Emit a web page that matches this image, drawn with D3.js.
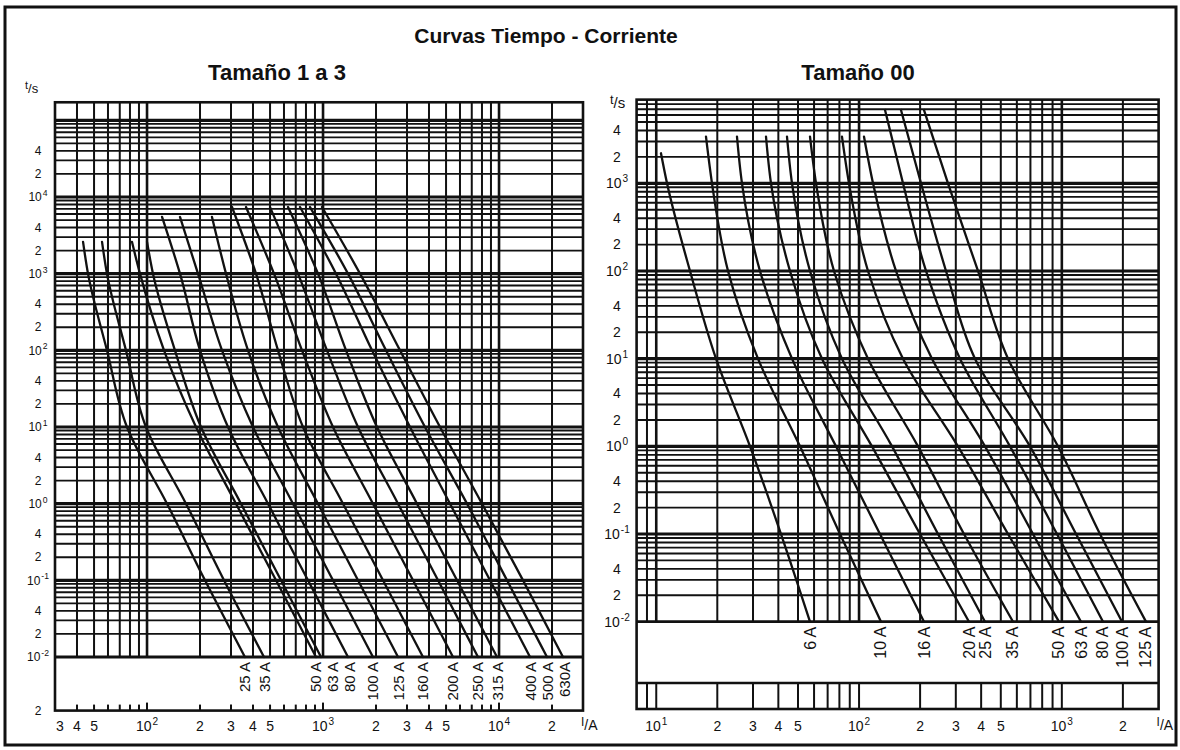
<!DOCTYPE html>
<html>
<head>
<meta charset="utf-8">
<script src="https://cdn.jsdelivr.net/npm/d3@7"></script>
<style>
  html, body { margin: 0; padding: 0; background: #fff; }
  svg { display: block; font-family: "Liberation Sans", Arial, sans-serif; }
</style>
</head>
<body>
<svg id="chart" width="1180" height="750"></svg>
<script>
// --- data: [current in A, time in s] ---
const leftRatings = ['25 A', '35 A', '50 A', '63 A', '80 A', '100 A', '125 A',
  '160 A', '200 A', '250 A', '315 A', '400 A', '500 A', '630A'];
const leftCurves = [
  [[43.3, 2600], [46.2, 1000], [59.2, 100], [76.9, 10], [129.9, 1], [213.5, 0.1], [360, 0.01]],
  [[55.5, 2600], [59.2, 1000], [75.9, 100], [98.6, 10], [166.5, 1], [273.7, 0.1], [462, 0.01]],
  [[82.1, 2600], [91.2, 1000], [124.9, 100], [189.8, 10], [320.3, 1], [540.5, 0.1], [912, 0.01]],
  [[100, 2600], [108.1, 1000], [144.1, 100], [202.6, 10], [341.9, 1], [577.1, 0.1], [974, 0.01]],
  [[121.7, 5500], [153.9, 1000], [200, 100], [288.4, 10], [486.8, 1], [821.4, 0.1], [1386, 0.01]],
  [[153.9, 5500], [194.8, 1000], [266.7, 100], [400, 10], [675.1, 1], [1139, 0.1], [1922, 0.01]],
  [[233.9, 5500], [281, 1000], [374.7, 100], [554.8, 10], [936.3, 1], [1580, 0.1], [2667, 0.01]],
  [[303.9, 7400], [416, 1000], [554.8, 100], [769.4, 10], [1299, 1], [2191, 0.1], [3698, 0.01]],
  [[365, 7400], [526.5, 1000], [759.4, 100], [1139, 10], [1922, 1], [3245, 0.1], [5476, 0.01]],
  [[499.7, 7400], [720.7, 1000], [1053, 100], [1580, 10], [2667, 1], [4501, 0.1], [7594, 0.01]],
  [[632.4, 7400], [936.3, 1000], [1351, 100], [2026, 10], [3419, 1], [5771, 0.1], [9739, 0.01]],
  [[739.8, 7400], [1185, 1000], [1898, 100], [3120, 10], [5265, 1], [8886, 0.1], [15000, 0.01]],
  [[843.3, 7400], [1386, 1000], [2279, 100], [3796, 10], [6577, 1], [11100, 0.1], [18730, 0.01]],
  [[986.5, 7400], [1622, 1000], [2737, 100], [4619, 10], [8003, 1], [13690, 0.1], [23090, 0.01]]
];

const rightRatings = ['6 A', '10 A', '16 A', '20 A', '25 A', '35 A', '50 A', '63 A', '80 A', '100 A', '125 A'];
const rightCurves = [
  [[10.55, 2200], [11.3, 1000], [14.67, 100], [19.71, 10], [29, 1], [41.22, 0.1], [57.3, 0.01]],
  [[17.59, 3400], [18.83, 1000], [22.59, 100], [31.74, 10], [51.14, 1], [80.55, 0.1], [128.3, 0.01]],
  [[25.01, 3400], [26.47, 1000], [32.47, 100], [46.71, 10], [76.96, 1], [126.8, 0.1], [209.1, 0.01]],
  [[34.77, 3400], [36.8, 1000], [45.65, 100], [65.67, 10], [115.8, 1], [199.8, 0.1], [348.5, 0.01]],
  [[44.13, 3400], [46.71, 1000], [57.3, 100], [82.38, 10], [145.4, 1], [245.1, 0.1], [417.8, 0.01]],
  [[57.3, 3400], [61.34, 1000], [75.24, 100], [110.7, 10], [195.3, 1], [329.2, 0.1], [574.3, 0.01]],
  [[82.38, 3400], [89.2, 1000], [110.7, 100], [164.7, 10], [307.5, 1], [542.7, 0.1], [968.1, 0.01]],
  [[105.8, 3400], [117.2, 1000], [152.1, 100], [228.9, 10], [417.8, 1], [720.6, 0.1], [1243, 0.01]],
  [[134.3, 6850], [164.7, 1000], [213.9, 100], [314.6, 10], [555.1, 1], [946.5, 0.1], [1595, 0.01]],
  [[161, 6850], [202.1, 1000], [268.4, 100], [373, 10], [696.5, 1], [1175, 0.1], [1980, 0.01]],
  [[209.1, 6850], [274.5, 1000], [385.9, 100], [542.7, 10], [957.2, 1], [1542, 0.1], [2600, 0.01]]
];

// tick labels: [value, text] ; "10^n" means power of ten
const leftXTicks = [[30, '3'], [40, '4'], [50, '5'], [100, '10^2'], [200, '2'], [300, '3'], [400, '4'],
  [500, '5'], [1000, '10^3'], [2000, '2'], [3000, '3'], [4000, '4'], [5000, '5'], [10000, '10^4'], [20000, '2']];
const leftYTicks = [[4e4, '4'], [2e4, '2'], [1e4, '10^4'], [4e3, '4'], [2e3, '2'], [1e3, '10^3'],
  [400, '4'], [200, '2'], [100, '10^2'], [40, '4'], [20, '2'], [10, '10^1'], [4, '4'], [2, '2'],
  [1, '10^0'], [0.4, '4'], [0.2, '2'], [0.1, '10^-1'], [0.04, '4'], [0.02, '2'], [0.01, '10^-2'], [0.002, '2']];
const rightXTicks = [[10, '10^1'], [20, '2'], [30, '3'], [40, '4'], [50, '5'], [100, '10^2'], [200, '2'],
  [300, '3'], [400, '4'], [500, '5'], [1000, '10^3'], [2000, '2']];
const rightYTicks = [[4e3, '4'], [2e3, '2'], [1e3, '10^3'], [400, '4'], [200, '2'], [100, '10^2'],
  [40, '4'], [20, '2'], [10, '10^1'], [4, '4'], [2, '2'], [1, '10^0'], [0.4, '4'], [0.2, '2'],
  [0.1, '10^-1'], [0.04, '4'], [0.02, '2'], [0.01, '10^-2']];

const INK = '#111';
const svg = d3.select('#chart');

// outer frame of the scan
svg.append('rect')
  .attr('x', 5).attr('y', 7).attr('width', 1171).attr('height', 738)
  .attr('fill', 'none').attr('stroke', INK).attr('stroke-width', 3);

svg.append('text')
  .attr('x', 546).attr('y', 43).attr('text-anchor', 'middle')
  .attr('font-size', 21).attr('font-weight', 'bold').attr('fill', INK)
  .text('Curvas Tiempo - Corriente');

function isDecade(v) {
  const l = Math.log10(v);
  return Math.abs(l - Math.round(l)) < 1e-6;
}

// writes "10^n" as 10 with a raised exponent
function tickText(sel, label, size) {
  const parts = label.split('^');
  sel.append('tspan').text(parts[0]);
  if (parts.length > 1) {
    sel.append('tspan')
      .attr('dy', -size * 0.42).attr('dx', 1)
      .attr('font-size', size * 0.72)
      .text(parts[1]);
  }
}

function unitLabel(g, xPos, yPos, a, b, size) {
  const t = g.append('text').attr('x', xPos).attr('y', yPos)
    .attr('font-size', size).attr('fill', INK);
  t.append('tspan').attr('dy', -4).attr('font-size', size * 0.85).text(a);
  t.append('tspan').attr('dy', 4).text('/' + b);
}

function drawPanel(p) {
  const x = d3.scaleLog().domain(p.xDomain).range(p.xRange);
  const y = d3.scaleLog().domain(p.yDomain).range(p.yRange);
  const g = svg.append('g');
  const [x0, x1] = p.xRange;
  const yTop = y(p.tTop);
  const yGrid = y(p.yDomain[0]);
  const yBox = y(p.tMin);
  const yEnd = p.stripBottom || yBox;

  // horizontal grid (1..9 x 10^n)
  const hVals = d3.scaleLog().domain([p.yDomain[0], p.tTop]).ticks()
    .filter(v => y(v) > yTop + 1 && y(v) < yGrid - 1);
  g.selectAll('line.h').data(hVals).join('line')
    .attr('x1', x0).attr('x2', x1)
    .attr('y1', d => y(d)).attr('y2', d => y(d))
    .attr('stroke', INK)
    .attr('stroke-width', d => isDecade(d) ? 3.2 : 1.9);

  // vertical grid
  const vVals = x.ticks().filter(v => x(v) > x0 + 1 && x(v) < x1 - 1);
  g.selectAll('line.v').data(vVals).join('line')
    .attr('x1', d => x(d)).attr('x2', d => x(d))
    .attr('y1', yTop).attr('y2', yGrid)
    .attr('stroke', INK)
    .attr('stroke-width', d => isDecade(d) ? 2.6 : 2);

  if (p.stripBottom) {
    // strip below the label box repeats the vertical grid
    g.selectAll('line.s').data(vVals).join('line')
      .attr('x1', d => x(d)).attr('x2', d => x(d))
      .attr('y1', yBox).attr('y2', p.stripBottom)
      .attr('stroke', INK).attr('stroke-width', 2);
    g.append('line').attr('x1', x0).attr('x2', x1).attr('y1', yBox).attr('y2', yBox)
      .attr('stroke', INK).attr('stroke-width', 2.4);
  } else {
    // short ticks on the bottom edge
    g.selectAll('line.t').data(vVals).join('line')
      .attr('x1', d => x(d)).attr('x2', d => x(d))
      .attr('y1', yBox).attr('y2', d => yBox - (isDecade(d) ? 8 : 6))
      .attr('stroke', INK).attr('stroke-width', 2);
  }

  // frame and the 10^-2 line
  g.append('rect').attr('x', x0).attr('y', yTop)
    .attr('width', x1 - x0).attr('height', yEnd - yTop)
    .attr('fill', 'none').attr('stroke', INK).attr('stroke-width', 2.6);
  g.append('line').attr('x1', x0).attr('x2', x1).attr('y1', yGrid).attr('y2', yGrid)
    .attr('stroke', INK).attr('stroke-width', 2.8);

  // time-current curves
  const line = d3.line()
    .x(d => x(d[0])).y(d => y(d[1]))
    .curve(d3.curveMonotoneY);
  g.selectAll('path.curve').data(p.curves).join('path')
    .attr('d', line)
    .attr('fill', 'none').attr('stroke', INK)
    .attr('stroke-width', 2.3).attr('stroke-linecap', 'round');

  // rating labels, rotated, under the curve ends
  let last = -Infinity;
  const lx = p.curves.map(c => {
    let v = x(c[c.length - 1][0]);
    if (v < last + p.labelGap) v = last + p.labelGap;
    last = v;
    return v;
  });
  g.selectAll('text.rating').data(p.ratings).join('text')
    .attr('transform', (d, i) => `translate(${lx[i]},${yGrid + 5}) rotate(-90)`)
    .attr('text-anchor', 'end').attr('dominant-baseline', 'central')
    .attr('font-size', p.ratingSize).attr('fill', INK)
    .text(d => d);

  // y tick labels
  g.selectAll('text.yt').data(p.yTicks).join('text')
    .attr('x', p.yLabelX).attr('y', d => y(d[0]) + p.yFont * 0.35)
    .attr('text-anchor', 'middle').attr('font-size', p.yFont).attr('fill', INK)
    .each(function (d) { tickText(d3.select(this), d[1], p.yFont); });

  // x tick labels
  g.selectAll('text.xt').data(p.xTicks).join('text')
    .attr('x', d => x(d[0]) + (x(d[0]) - x0 < 2 ? 5 : 0))
    .attr('y', 731)
    .attr('text-anchor', 'middle').attr('font-size', p.xFont).attr('fill', INK)
    .each(function (d) { tickText(d3.select(this), d[1], p.xFont); });

  // panel title and axis units
  g.append('text').attr('x', p.titleX).attr('y', 80)
    .attr('text-anchor', 'middle').attr('font-size', 22).attr('font-weight', 'bold')
    .attr('fill', INK).text(p.title);
  unitLabel(g, p.tUnit[0], p.tUnit[1], 't', 's', p.yFont + 1);
  unitLabel(g, x1 - 2, 730, 'I', 'A', p.xFont);
}

drawPanel({
  title: 'Tamaño 1 a 3', titleX: 277,
  xDomain: [30, 30000], xRange: [55, 583],
  yDomain: [1e-2, 1e4], yRange: [657, 197],
  tTop: 1.72e5, tMin: 2e-3,
  curves: leftCurves, ratings: leftRatings, labelGap: 17, ratingSize: 15,
  xTicks: leftXTicks, yTicks: leftYTicks,
  yLabelX: 38, yFont: 12, xFont: 14, tUnit: [25, 93]
});

drawPanel({
  title: 'Tamaño 00', titleX: 858,
  xDomain: [8, 3000], xRange: [636.6, 1158.6],
  yDomain: [1e-2, 1e3], yRange: [621.7, 183.3],
  tTop: 9e3, tMin: 2e-3, stripBottom: 709,
  curves: rightCurves, ratings: rightRatings, labelGap: 16, ratingSize: 16,
  xTicks: rightXTicks, yTicks: rightYTicks,
  yLabelX: 617, yFont: 14, xFont: 14, tUnit: [610, 108]
});
</script>
</body>
</html>
